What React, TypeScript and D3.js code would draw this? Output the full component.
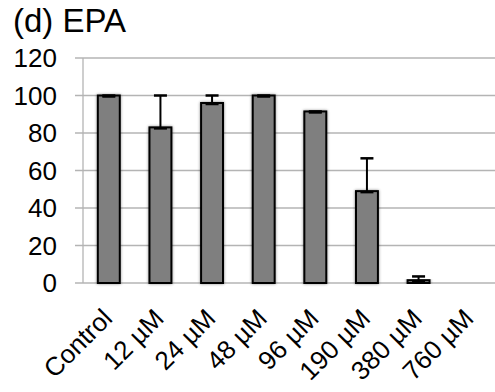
import { useEffect, useRef } from 'react'
import * as d3 from 'd3'

// EPA viability, % of control
const categories = ['Control', '12 µM', '24 µM', '48 µM', '96 µM', '190 µM', '380 µM', '760 µM']
const means = [100, 83, 96, 100, 91.5, 49, 1.5, 0]
const errs = [0, 17, 4, 0, 0, 17.5, 2, 0]
const yTicks = [0, 20, 40, 60, 80, 100, 120]
const title = '(d) EPA'

export default function App() {
  const ref = useRef<SVGSVGElement>(null)

  useEffect(() => {
    const W = 495, H = 392
    const M = { top: 58, right: -1, bottom: 109, left: 83 }
    const svg = d3.select(ref.current)
    svg.selectAll('*').remove()
    svg.attr('width', W).attr('height', H)

    const font = '"Liberation Sans", Arial, sans-serif'

    const x = d3.scaleBand<string>().domain(categories)
      .range([M.left, W - M.right]).paddingInner(0.575).paddingOuter(0.2875)
    const y = d3.scaleLinear().domain([0, 120]).range([H - M.bottom, M.top])

    // soft shadow round the bars
    const defs = svg.append('defs')
    const f = defs.append('filter').attr('id', 'glow')
      .attr('x', '-30%').attr('y', '-10%').attr('width', '160%').attr('height', '120%')
    f.append('feGaussianBlur').attr('in', 'SourceAlpha').attr('stdDeviation', 1.6).attr('result', 'b')
    f.append('feComponentTransfer').attr('in', 'b').attr('result', 's')
      .append('feFuncA').attr('type', 'linear').attr('slope', 0.45)
    const fm = f.append('feMerge')
    fm.append('feMergeNode').attr('in', 's')
    fm.append('feMergeNode').attr('in', 'SourceGraphic')

    // title
    svg.append('text')
      .attr('x', 13).attr('y', 32)
      .style('font-family', font).style('font-size', '33px')
      .text(title)

    // gridlines + tick labels
    const grid = svg.append('g')
    yTicks.forEach(t => {
      grid.append('line')
        .attr('x1', 75).attr('x2', W)
        .attr('y1', y(t)).attr('y2', y(t))
        .attr('stroke', '#b4b4b4').attr('stroke-width', 1.3)
      svg.append('text')
        .attr('x', 57).attr('y', y(t)).attr('dy', '0.36em')
        .attr('text-anchor', 'end')
        .style('font-family', font).style('font-size', '26px')
        .text(t)
    })
    grid.append('line')
      .attr('x1', M.left).attr('x2', M.left)
      .attr('y1', y(120)).attr('y2', y(0))
      .attr('stroke', '#b4b4b4').attr('stroke-width', 1.3)

    // bars
    const g = svg.append('g')
    categories.forEach((c, i) => {
      if (means[i] <= 0) return
      g.append('rect')
        .attr('x', x(c)!).attr('y', y(means[i]))
        .attr('width', x.bandwidth()).attr('height', y(0) - y(means[i]))
        .attr('fill', '#7f7f7f').attr('stroke', '#000').attr('stroke-width', 2)
        .attr('filter', 'url(#glow)')
    })

    // error bars (plus only, caps at both ends)
    categories.forEach((c, i) => {
      if (means[i] <= 0) return
      const cx = x(c)! + x.bandwidth() / 2
      const y0 = y(means[i]), y1 = y(means[i] + errs[i])
      g.append('line').attr('x1', cx).attr('x2', cx).attr('y1', y0).attr('y2', y1)
        .attr('stroke', '#000').attr('stroke-width', 2)
      ;[y0 + 1, y1].forEach(yy => {
        g.append('line').attr('x1', cx - 6.5).attr('x2', cx + 6.5).attr('y1', yy).attr('y2', yy)
          .attr('stroke', '#000').attr('stroke-width', 2.5)
      })
    })

    // category labels, rotated
    categories.forEach(c => {
      const ax = x(c)! + x.bandwidth() / 2 + 5
      const ay = 320
      svg.append('text')
        .attr('transform', `translate(${ax},${ay}) rotate(-45)`)
        .attr('text-anchor', 'end')
        .style('font-family', font).style('font-size', '26px')
        .text(c)
    })
  }, [])

  return <svg ref={ref} style={{ position: 'absolute', left: 0, top: 0, background: '#fff' }} />
}
